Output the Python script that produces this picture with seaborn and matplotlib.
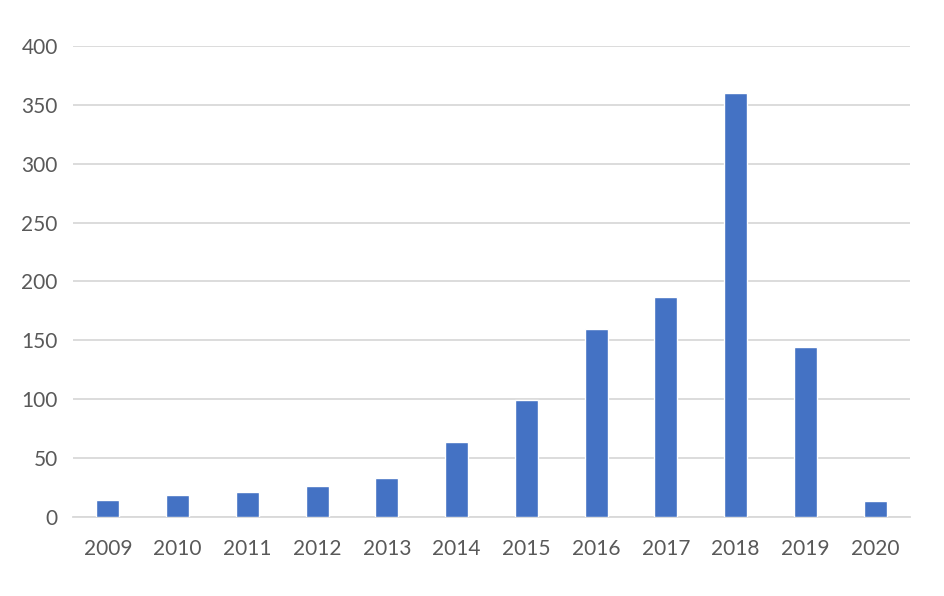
import pandas as pd
import matplotlib.pyplot as plt
import seaborn as sns

# Values
years = ['2009', '2010', '2011', '2012', '2013', '2014',
         '2015', '2016', '2017', '2018', '2019', '2020']
counts = [14.5, 18.5, 21, 26, 33, 64, 99, 160, 186.5, 360, 144, 13.5]

df = pd.DataFrame({'Year': years, 'Count': counts})

sns.set_style("white")
plt.rcParams['font.family'] = ['Lato', 'DejaVu Sans']

fig = plt.figure(figsize=(9.44, 5.96), dpi=100)
ax = fig.add_axes([0.0773, 0.1326, 0.8867, 0.7902])

sns.barplot(data=df, x='Year', y='Count', color='#4472C4', width=0.33,
            saturation=1, ax=ax, zorder=3)

ax.set_ylim(0, 400)
ax.set_yticks(range(0, 401, 50))
ax.set_xlim(-0.5, 11.5)
ax.grid(axis='y', color='#d9d9d9', linewidth=1.3, zorder=0)
ax.set_axisbelow(True)

for side in ['top', 'right', 'left']:
    ax.spines[side].set_visible(False)
ax.spines['bottom'].set_color('#d9d9d9')
ax.spines['bottom'].set_linewidth(1.3)

ax.tick_params(axis='both', length=0, labelsize=15, labelcolor='#595959')
ax.tick_params(axis='y', pad=11)
ax.tick_params(axis='x', pad=16)
ax.set_xlabel('')
ax.set_ylabel('')

fig.savefig('out.png', dpi=100)
